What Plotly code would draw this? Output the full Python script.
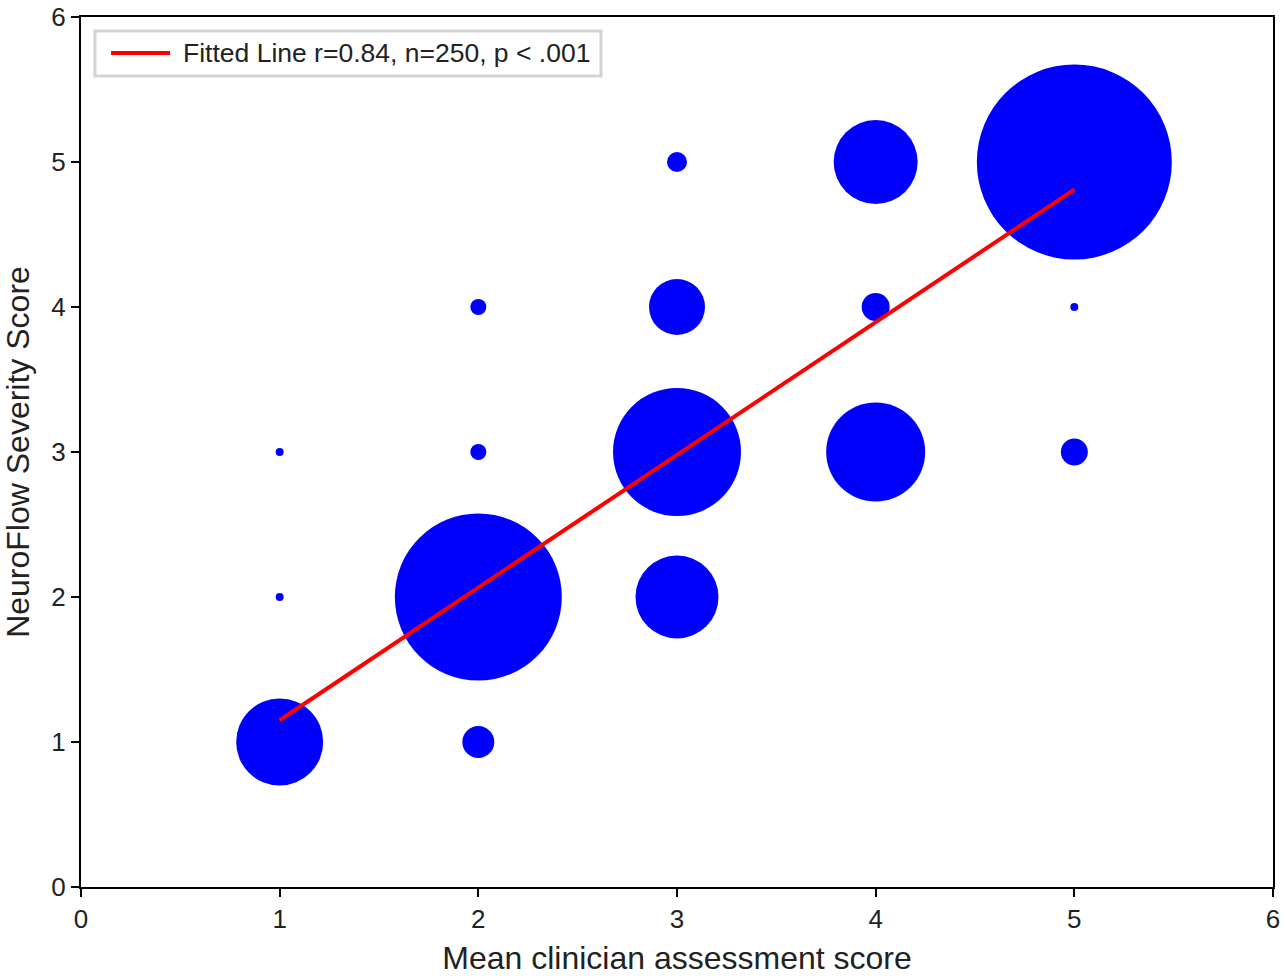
import plotly.graph_objects as go

# Bubble data: clinician score (x), NeuroFlow score (y), bubble diameter (px)
clin_x = [1, 1, 1, 2, 2, 2, 2, 3, 3, 3, 3, 4, 4, 4, 5, 5, 5]
neuro_y = [1, 2, 3, 1, 2, 3, 4, 2, 3, 4, 5, 3, 4, 5, 3, 4, 5]
bubble_size = [87, 8, 8, 32, 167, 16, 16, 83, 128, 56, 20, 99, 28, 84, 27, 8, 195]

# Fitted line endpoints
fit_x = [1, 5]
fit_y = [1.15, 4.81]
fit_label = "Fitted Line r=0.84, n=250, p < .001"

ticks = [0, 1, 2, 3, 4, 5, 6]

FONT = "Liberation Sans, Arial, sans-serif"

fig = go.Figure()
fig.add_trace(go.Scatter(
    x=clin_x, y=neuro_y, mode="markers", showlegend=False,
    marker=dict(size=bubble_size, sizemode="diameter", sizeref=1,
                color="#0000FF", line=dict(width=0), opacity=1),
    hoverinfo="x+y",
))
fig.add_trace(go.Scatter(
    x=fit_x, y=fit_y, mode="lines", name=fit_label, showlegend=False,
    line=dict(color="#FF0000", width=4),
))

axis_common = dict(
    range=[0, 6], tickvals=ticks, showgrid=False, zeroline=False,
    showline=True, linecolor="black", linewidth=2, mirror=True,
    ticks="outside", ticklen=8, tickwidth=2, tickcolor="black",
    automargin=False,
    tickfont=dict(size=26, color="#222222", family=FONT),
)

fig.update_layout(
    width=1285, height=976,
    margin=dict(l=81, r=12, t=17, b=89),
    paper_bgcolor="white", plot_bgcolor="white",
    font=dict(family=FONT, color="#222222"),
    xaxis=dict(**axis_common, title=dict(text="Mean clinician assessment score",
                                          font=dict(size=32), standoff=16)),
    yaxis=dict(**axis_common, title=dict(text="NeuroFlow Severity Score",
                                          font=dict(size=32), standoff=15)),
    showlegend=False,
)

# Legend box drawn manually (paper coordinates)
fig.add_shape(type="rect", xref="paper", yref="paper",
              x0=0.0117, x1=0.4362, y0=0.9322, y1=0.9839,
              line=dict(color="#d3d3d3", width=3), fillcolor="white", layer="above")
fig.add_shape(type="line", xref="paper", yref="paper",
              x0=0.0252, x1=0.0747, y0=0.9586, y1=0.9586,
              line=dict(color="#FF0000", width=4), layer="above")
fig.add_annotation(xref="paper", yref="paper", x=0.0839, y=0.9586,
                   xanchor="left", yanchor="middle", showarrow=False,
                   text=fit_label, font=dict(size=26.5, color="#222222", family=FONT))

# Remove the default 8px page margin so the figure fills the window exactly
fig.write_html("out.html",
               config={"displayModeBar": False},
               post_script="document.body.style.margin='0';document.body.style.overflow='hidden';")
